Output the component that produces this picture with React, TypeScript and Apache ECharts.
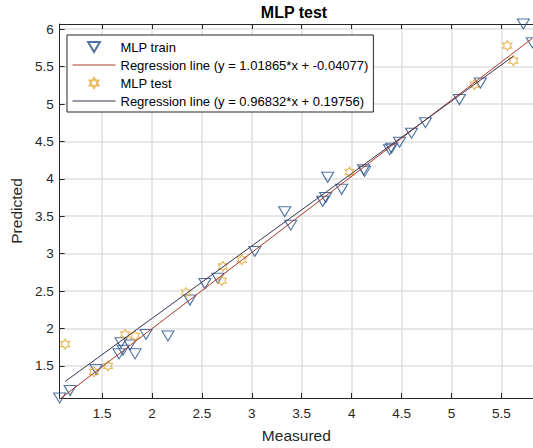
import React, { useEffect, useRef } from "react";
import * as echarts from "echarts";

// ---- data ----
const trainMeasured = [1.075, 1.18, 1.44, 1.67, 1.71, 1.69, 1.78, 1.83, 1.94, 2.16, 2.38, 2.53, 2.66, 3.03, 3.33, 3.39, 3.71, 3.74, 3.76, 3.9, 4.12, 4.13, 4.38, 4.4, 4.48, 4.6, 4.74, 5.08, 5.29, 5.72, 5.81];
const trainPredicted = [1.07, 1.17, 1.45, 1.66, 1.71, 1.81, 1.78, 1.66, 1.92, 1.9, 2.38, 2.6, 2.67, 3.03, 3.56, 3.38, 3.7, 3.75, 4.02, 3.86, 4.12, 4.1, 4.39, 4.41, 4.49, 4.61, 4.75, 5.06, 5.28, 6.07, 5.82];
const testMeasured = [1.13, 1.42, 1.56, 1.73, 1.83, 2.34, 2.7, 2.71, 2.9, 3.98, 5.23, 5.56, 5.62];
const testPredicted = [1.79, 1.42, 1.5, 1.92, 1.9, 2.48, 2.64, 2.83, 2.92, 4.09, 5.26, 5.78, 5.58];
const trainFit = [1.01865, -0.04077]; // slope, intercept
const testFit = [0.96832, 0.19756];
const xTicks = [1.5, 2, 2.5, 3, 3.5, 4, 4.5, 5, 5.5];
const yTicks = [1.5, 2, 2.5, 3, 3.5, 4, 4.5, 5, 5.5, 6];
const xRange = [1.075, 5.817];
const yRange = [1.07, 6.07];
const seriesNames = [
  "MLP train",
  "Regression line (y = 1.01865*x + -0.04077)",
  "MLP test",
  "Regression line (y = 0.96832*x + 0.19756)",
];

const FONT = "'Liberation Sans', Arial, Helvetica, sans-serif";
const BLUE = "#24508c";
const GOLD = "#e2a634";
const RED = "#a83a2a";
const DARK = "#3a3350";
const AXIS = "#262626";
const GRID = "#dfdfdf";
const CLEAR = "rgba(0,0,0,0)";

const TRI = "path://M0,0 L20,0 L10,17 Z";
const HEX =
  "path://M100,0 L128.87,50 L186.6,50 L157.74,100 L186.6,150 L128.87,150 L100,200 L71.13,150 L13.4,150 L42.26,100 L13.4,50 L71.13,50 Z";

function fitLine(xs: number[], fit: number[]) {
  const lo = Math.min(...xs);
  const hi = Math.max(...xs);
  return [
    [lo, fit[0] * lo + fit[1]],
    [hi, fit[0] * hi + fit[1]],
  ];
}

function buildOption() {
  const trainPts = trainMeasured.map((x, i) => [x, trainPredicted[i]]);
  const testPts = testMeasured.map((x, i) => [x, testPredicted[i]]);
  const lineStyleAxis = { color: AXIS, width: 1 };
  return {
    animation: false,
    backgroundColor: "#fff",
    textStyle: { fontFamily: FONT },
    title: {
      text: "MLP test",
      left: 294,
      top: 4,
      padding: 0,
      textAlign: "center",
      textStyle: { fontSize: 16, fontWeight: "bold", color: "#000", fontFamily: FONT },
    },
    grid: { left: 55, top: 24, width: 478, height: 375 },
    legend: {
      left: 67,
      top: 35,
      orient: "vertical",
      backgroundColor: "#fff",
      borderColor: AXIS,
      borderWidth: 1,
      borderRadius: 0,
      padding: [5, 5, 4, 5],
      itemGap: 4,
      itemWidth: 43,
      itemHeight: 10,
      selectedMode: false,
      textStyle: { fontSize: 13, color: "#000", fontFamily: FONT, lineHeight: 14 },
      data: [
        { name: seriesNames[0] },
        { name: seriesNames[1], itemStyle: { color: CLEAR, borderWidth: 0 }, lineStyle: { width: 1 } },
        { name: seriesNames[2] },
        { name: seriesNames[3], itemStyle: { color: CLEAR, borderWidth: 0 }, lineStyle: { width: 1 } },
      ],
    },
    xAxis: [
      {
        type: "value",
        min: xRange[0],
        max: xRange[1],
        splitNumber: 10,
        minInterval: 0.5,
        maxInterval: 0.5,
        axisLine: { show: true, onZero: false, lineStyle: lineStyleAxis },
        axisTick: { show: true, inside: true, length: 5, customValues: xTicks, lineStyle: lineStyleAxis },
        axisLabel: { customValues: xTicks, fontSize: 13.5, color: AXIS, margin: 8, fontFamily: FONT },
        splitLine: { show: true, lineStyle: { color: GRID, width: 1.5 } },
        name: "Measured",
        nameLocation: "middle",
        nameGap: 29,
        nameTextStyle: { fontSize: 15.5, color: AXIS, fontFamily: FONT },
      },
      {
        type: "value",
        position: "top",
        min: xRange[0],
        max: xRange[1],
        splitNumber: 10,
        minInterval: 0.5,
        maxInterval: 0.5,
        axisLine: { show: true, onZero: false, lineStyle: lineStyleAxis },
        axisTick: { show: true, inside: true, length: 5, customValues: xTicks, lineStyle: lineStyleAxis },
        axisLabel: { show: false },
        splitLine: { show: false },
      },
    ],
    yAxis: [
      {
        type: "value",
        min: yRange[0],
        max: yRange[1],
        splitNumber: 10,
        minInterval: 0.5,
        maxInterval: 0.5,
        axisLine: { show: true, onZero: false, lineStyle: lineStyleAxis },
        axisTick: { show: true, inside: true, length: 5, customValues: yTicks, lineStyle: lineStyleAxis },
        axisLabel: { customValues: yTicks, fontSize: 13.5, color: AXIS, margin: 6, fontFamily: FONT },
        splitLine: { show: true, lineStyle: { color: GRID, width: 1.5 } },
        name: "Predicted",
        nameLocation: "middle",
        nameGap: 29,
        nameTextStyle: { fontSize: 15.5, color: AXIS, fontFamily: FONT },
      },
    ],
    series: [
      {
        type: "scatter",
        name: seriesNames[0],
        data: trainPts,
        symbol: TRI,
        symbolSize: [12, 10],
        clip: false,
        itemStyle: { color: CLEAR, borderColor: BLUE, borderWidth: 1.1 },
      },
      {
        type: "line",
        name: seriesNames[1],
        data: fitLine(trainMeasured, trainFit),
        symbol: "none",
        clip: false,
        lineStyle: { color: RED, width: 1 },
        itemStyle: { color: CLEAR, borderWidth: 0 },
      },
      {
        type: "scatter",
        name: seriesNames[2],
        data: testPts,
        symbol: HEX,
        symbolSize: [9, 10],
        clip: false,
        itemStyle: { color: CLEAR, borderColor: GOLD, borderWidth: 1.1 },
      },
      {
        type: "line",
        name: seriesNames[3],
        data: fitLine(testMeasured, testFit),
        symbol: "none",
        clip: false,
        lineStyle: { color: DARK, width: 1 },
        itemStyle: { color: CLEAR, borderWidth: 0 },
      },
    ],
  };
}

export default function App() {
  const ref = useRef<HTMLDivElement>(null);
  useEffect(() => {
    if (!ref.current) return;
    const chart = echarts.init(ref.current, undefined, { renderer: "svg" });
    chart.setOption(buildOption() as any);
    return () => chart.dispose();
  }, []);
  return (
    <div
      ref={ref}
      style={{ position: "fixed", left: 0, top: 0, width: 533, height: 448, background: "#fff" }}
    />
  );
}
